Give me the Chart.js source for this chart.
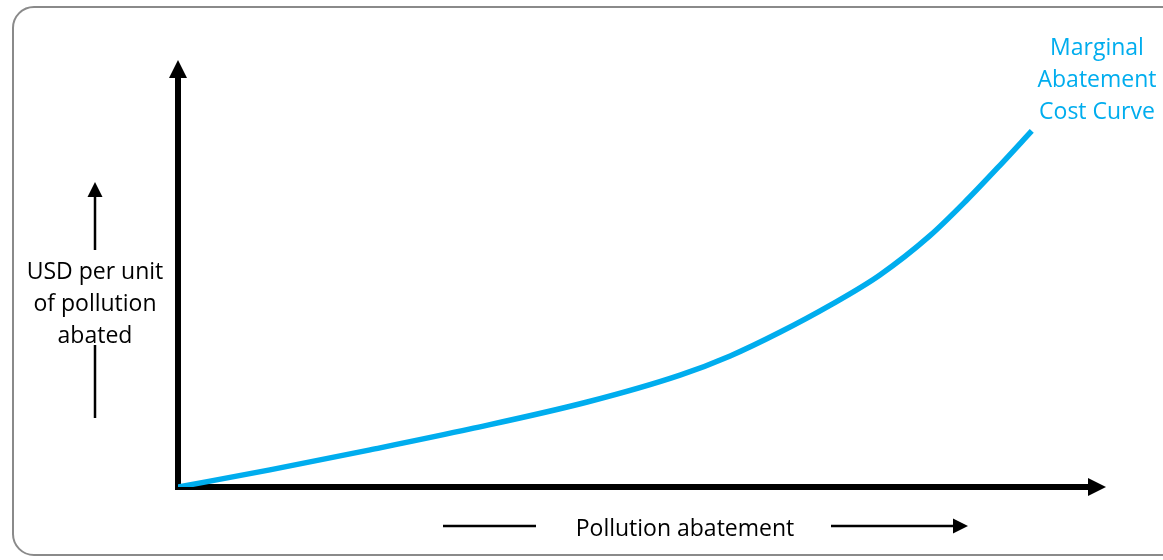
<!DOCTYPE html>
<html>
<head>
<meta charset="utf-8">
<script src="https://cdn.jsdelivr.net/npm/chart.js@4.4.1/dist/chart.umd.min.js"></script>
<style>
  html, body { margin: 0; padding: 0; background: #ffffff; }
  #wrap { position: relative; width: 1163px; height: 560px; overflow: hidden; }
  #frame { position: absolute; left: 12px; top: 6px; width: 1180px; height: 550px;
           border: 2px solid #8a8a8a; border-radius: 22px; box-sizing: border-box; }
  canvas { position: absolute; left: 0; top: 0; }
  .lbl { position: absolute; font-family: "Open Sans", sans-serif; font-size: 23px;
         line-height: 32px; text-align: center; white-space: nowrap; }
  #ylab { left: 15px; width: 160px; top: 254px; color: #000; }
  #xlab { left: 540px; width: 290px; top: 511px; color: #000; }
  #clab { left: 1022px; width: 150px; top: 30px; color: #00adee; }
</style>
</head>
<body>
<div id="wrap">
  <div id="frame"></div>
  <canvas id="c" width="1163" height="560"></canvas>
  <div class="lbl" id="ylab">USD per unit<br>of pollution<br>abated</div>
  <div class="lbl" id="xlab">Pollution abatement</div>
  <div class="lbl" id="clab">Marginal<br>Abatement<br>Cost Curve</div>
</div>
<script>
// Pollution abated (share of axis length, 0-100)
const abatement = [0, 9.9, 20.7, 31.5, 44.1, 54.1, 59.5, 64.9, 70.3, 75.6, 81.0, 85.0, 88.6, 92.0];
// Marginal cost per unit (share of axis height, 0-100)
const marginalCost = [0, 4.0, 8.7, 13.6, 19.9, 26.2, 30.7, 36.3, 42.6, 49.6, 58.8, 67.2, 75.4, 83.4];
const seriesName = "Marginal Abatement Cost Curve";

const points = abatement.map((x, i) => ({ x: x, y: marginalCost[i] }));

function arrowHead(ctx, tipX, tipY, dir, len, half) {
  ctx.beginPath();
  if (dir === 'up') {
    ctx.moveTo(tipX, tipY);
    ctx.lineTo(tipX - half, tipY + len);
    ctx.lineTo(tipX + half, tipY + len);
  } else {
    ctx.moveTo(tipX, tipY);
    ctx.lineTo(tipX - len, tipY - half);
    ctx.lineTo(tipX - len, tipY + half);
  }
  ctx.closePath();
  ctx.fill();
}

const axesPlugin = {
  id: 'axesArrows',
  beforeDatasetsDraw(chart) {
    const ctx = chart.ctx;
    const a = chart.chartArea;
    ctx.save();
    ctx.fillStyle = '#000';
    ctx.strokeStyle = '#000';
    ctx.lineWidth = 6;
    ctx.lineCap = 'butt';
    // y axis
    ctx.beginPath();
    ctx.moveTo(a.left, a.bottom + 3);
    ctx.lineTo(a.left, a.top + 16);
    ctx.stroke();
    arrowHead(ctx, a.left, a.top, 'up', 18, 9);
    // x axis
    ctx.beginPath();
    ctx.moveTo(a.left - 3, a.bottom);
    ctx.lineTo(a.right - 16, a.bottom);
    ctx.stroke();
    arrowHead(ctx, a.right, a.bottom, 'right', 18, 9);

    // decorative label arrows
    ctx.lineWidth = 2.5;
    ctx.beginPath();
    ctx.moveTo(95, 250); ctx.lineTo(95, 195); ctx.stroke();
    arrowHead(ctx, 95, 182, 'up', 15, 7.5);
    ctx.beginPath();
    ctx.moveTo(95, 345); ctx.lineTo(95, 418); ctx.stroke();
    ctx.beginPath();
    ctx.moveTo(443, 526); ctx.lineTo(536, 526); ctx.stroke();
    ctx.beginPath();
    ctx.moveTo(831, 526); ctx.lineTo(955, 526); ctx.stroke();
    arrowHead(ctx, 968, 526, 'right', 15, 7.5);
    ctx.restore();
  }
};

new Chart(document.getElementById('c'), {
  type: 'line',
  data: {
    datasets: [{
      label: seriesName,
      data: points,
      borderColor: '#00adee',
      borderWidth: 5.5,
      pointRadius: 0,
      fill: false,
      cubicInterpolationMode: 'monotone',
      borderCapStyle: 'butt'
    }]
  },
  options: {
    responsive: false,
    animation: false,
    layout: { padding: { left: 178, right: 57, top: 60, bottom: 73 } },
    plugins: { legend: { display: false }, tooltip: { enabled: false } },
    scales: {
      x: { type: 'linear', min: 0, max: 100, display: false },
      y: { type: 'linear', min: 0, max: 100, display: false }
    }
  },
  plugins: [axesPlugin]
});
</script>
</body>
</html>
